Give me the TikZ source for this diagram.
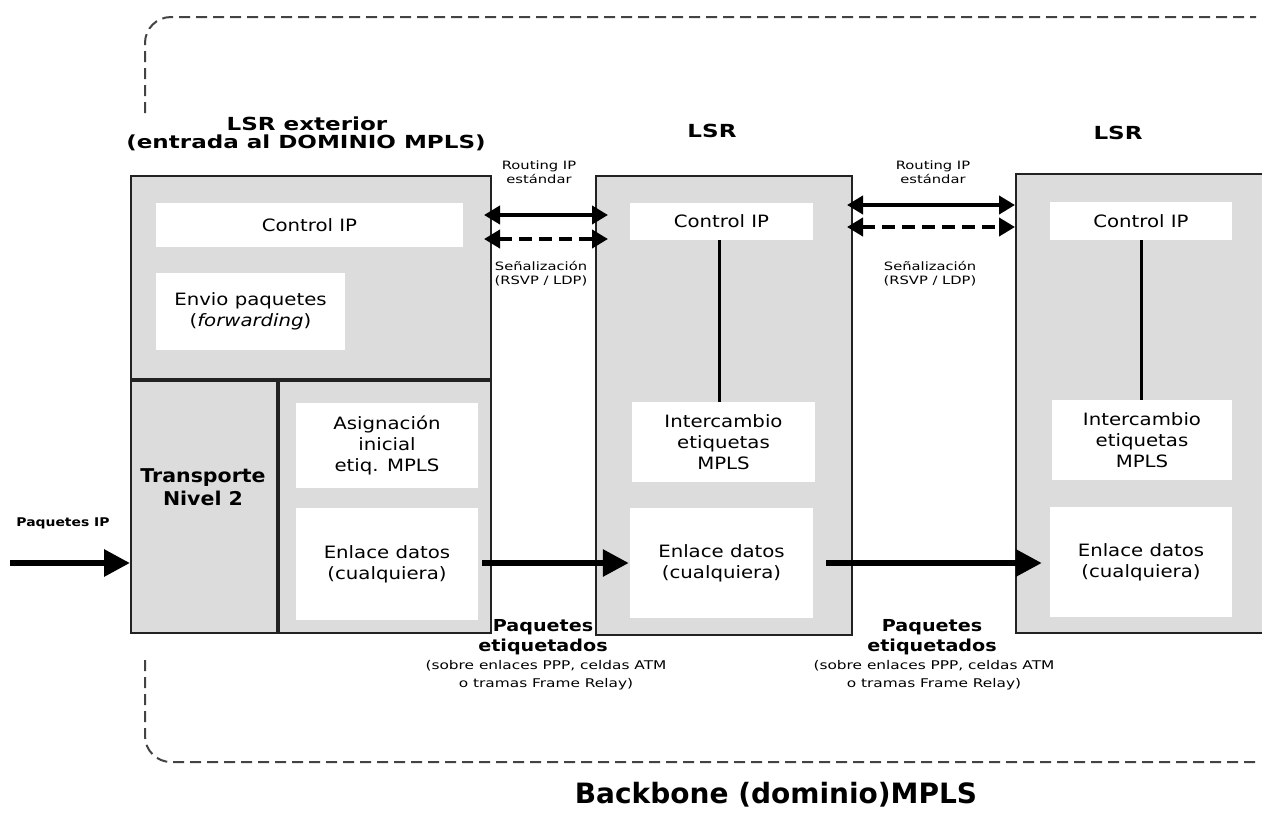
\documentclass[tikz,border=0pt]{standalone}
\usepackage{fontspec}
\setmainfont{DejaVu Sans}
\newfontfamily\wideA{DejaVu Sans}[FakeStretch=1.28]
\newfontfamily\wideB{DejaVu Sans}[FakeStretch=1.16]
\newfontfamily\wideC{DejaVu Sans}[FakeStretch=1.08]
\usetikzlibrary{arrows.meta}
\definecolor{boxgray}{HTML}{DCDCDC}
\definecolor{edge}{HTML}{222222}
\begin{document}
\begin{tikzpicture}[x=1pt,y=-1pt,
  lsrbox/.style={draw=edge,line width=2pt,fill=boxgray,inner sep=0pt,anchor=north west},
  wbox/.style={fill=white,inner sep=0pt,align=center,font=\wideB\fontsize{17}{21}\selectfont},
  ttl/.style={font=\wideA\bfseries\fontsize{18}{18}\selectfont,align=center},
  small/.style={font=\wideA\fontsize{11.5}{14}\selectfont,align=center},
  blab/.style={font=\wideB\bfseries\fontsize{16.5}{20}\selectfont,align=center},
  slab/.style={font=\wideA\fontsize{12}{17.5}\selectfont,align=center},
  bigarrow/.style={line width=6pt,-{Triangle[length=26pt,width=26pt]}},
  dbl/.style={line width=4.5pt,{Triangle[length=16pt,width=18pt]}-{Triangle[length=16pt,width=18pt]}},
  dbldash/.style={dbl,dash pattern=on 13pt off 7pt},
  frame/.style={draw=edge!85,line width=2pt,dash pattern=on 11pt off 6pt,rounded corners=26pt},
  vline/.style={line width=3pt,draw=black}]
\useasboundingbox (0,0) rectangle (1262,812);

% dashed backbone frame
\draw[frame] (145,113) -- (145,17) -- (1256,17);
\draw[frame] (145,660) -- (145,762) -- (1256,762);

% box 1
\node[lsrbox,minimum width=360pt,minimum height=457pt] (b1) at (130,175) {};
\draw[line width=4pt,draw=edge] ([yshift=-205pt]b1.north west) -- ([yshift=-205pt]b1.north east);
\draw[line width=4pt,draw=edge] ([xshift=148pt,yshift=-205pt]b1.north west) -- ([xshift=148pt]b1.south west);
\node[wbox,minimum width=307pt,minimum height=44pt] (ctl1) at (309.5,225) {Control IP};
\node[wbox,minimum width=189pt,minimum height=77pt] (env1) at (250.5,311.5) {Envio paquetes\\(\textit{forwarding})};
\node[wbox,minimum width=182pt,minimum height=85pt] (asg1) at (387,445.5) {Asignación\\inicial\\etiq. MPLS};
\node[wbox,minimum width=182pt,minimum height=112pt] (enl1) at (387,564) {Enlace datos\\(cualquiera)};
\node[font=\wideC\bfseries\fontsize{19}{23}\selectfont,align=center] (tr1) at (203,487) {Transporte\\Nivel 2};

% box 2
\node[lsrbox,minimum width=256pt,minimum height=459pt] (b2) at (595,175) {};
\node[wbox,minimum width=183pt,minimum height=37pt] (ctl2) at (721.5,221.5) {Control IP};
\node[wbox,minimum width=183pt,minimum height=80pt] (int2) at (723.5,442) {Intercambio\\etiquetas\\MPLS};
\node[wbox,minimum width=183pt,minimum height=110pt] (enl2) at (721.5,563) {Enlace datos\\(cualquiera)};
\draw[vline] (ctl2.south -| 719,0) -- (int2.north -| 719,0);

% box 3
\node[lsrbox,minimum width=265pt,minimum height=459pt] (b3) at (1015,173) {};
\node[wbox,minimum width=182pt,minimum height=38pt] (ctl3) at (1141,221) {Control IP};
\node[wbox,minimum width=180pt,minimum height=80pt] (int3) at (1142,440) {Intercambio\\etiquetas\\MPLS};
\node[wbox,minimum width=182pt,minimum height=110pt] (enl3) at (1141,562) {Enlace datos\\(cualquiera)};
\draw[vline] (ctl3.south -| 1141,0) -- (int3.north -| 1141,0);

% titles
\node[ttl] (t1) at (307,124) {LSR exterior};
\node[ttl] (t1b) at (306,143) {(entrada al DOMINIO MPLS)};
\node[ttl] (t2) at (712,131) {LSR};
\node[ttl] (t3) at (1118,133) {LSR};

% routing arrows between box 1 and 2
\draw[dbl] ([xshift=-8pt,yshift=-40pt]b1.north east) -- ([xshift=13pt,yshift=-40pt]b2.north west);
\draw[dbldash] ([xshift=-8pt,yshift=-64pt]b1.north east) -- ([xshift=13pt,yshift=-64pt]b2.north west);
\node[small] (r1) at (539,172) {Routing IP\\estándar};
\node[small] (s1) at (541,274) {Señalización\\(RSVP / LDP)};

% routing arrows between box 2 and 3
\draw[dbl] ([xshift=-6pt,yshift=-30pt]b2.north east) -- ([yshift=-32pt]b3.north west);
\draw[dbldash] ([xshift=-6pt,yshift=-52pt]b2.north east) -- ([yshift=-54pt]b3.north west);
\node[small] (r2) at (933,172) {Routing IP\\estándar};
\node[small] (s2) at (930,274) {Señalización\\(RSVP / LDP)};

% data arrows
\coordinate (pin) at (10,563);
\node[font=\wideB\bfseries\fontsize{12}{14}\selectfont] (pip) at (63,523) {Paquetes IP};
\draw[bigarrow] (pin) -- (pin -| b1.west);
\coordinate (a1s) at ([xshift=4pt]enl1.east |- pin);
\coordinate (a1e) at ([xshift=-1pt]enl2.west |- pin);
\draw[bigarrow] (a1s) -- (a1e);
\coordinate (a2s) at ([xshift=13pt]enl2.east |- pin);
\coordinate (a2e) at ([xshift=-8pt]enl3.west |- pin);
\draw[bigarrow] (a2s) -- (a2e);

% link labels
\node[blab] (p1) at (543,637) {Paquetes\\etiquetados};
\node[slab] (q1) at (546,675) {(sobre enlaces PPP, celdas ATM\\o tramas Frame Relay)};
\node[blab] (p2) at (932,637) {Paquetes\\etiquetados};
\node[slab] (q2) at (934,675) {(sobre enlaces PPP, celdas ATM\\o tramas Frame Relay)};

\node[font=\bfseries\fontsize{28}{32}\selectfont] (bb) at (776,795) {Backbone (dominio)MPLS};
\end{tikzpicture}
\end{document}
